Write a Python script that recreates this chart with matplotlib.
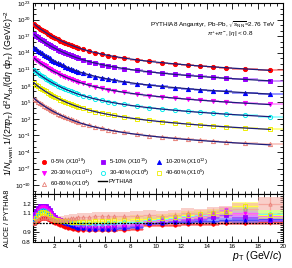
import matplotlib
matplotlib.use("Agg")
import matplotlib.pyplot as plt
from matplotlib.lines import Line2D
from matplotlib.ticker import MultipleLocator, FixedLocator, NullFormatter
import numpy as np

plt.rcParams['font.family'] = ['Liberation Sans', 'DejaVu Sans']
plt.rcParams['mathtext.fontset'] = 'custom'
plt.rcParams['mathtext.rm'] = 'Liberation Sans'
plt.rcParams['mathtext.it'] = 'Liberation Sans:italic'

# pT bin centres and edges (GeV/c)
pt = [0.45, 0.6, 0.75, 0.9, 1.05, 1.2, 1.35, 1.5, 1.65, 1.8, 1.95, 2.1, 2.3, 2.5, 2.7,
      2.9, 3.1, 3.3, 3.5, 3.7, 3.9, 4.25, 4.75, 5.25, 5.75, 6.25, 6.75, 7.5, 8.5, 9.5,
      10.5, 11.5, 12.5, 13.5, 14.5, 15.5, 17, 19]
pt_edges = [0.4, 0.525, 0.675, 0.825, 0.975, 1.125, 1.275, 1.425, 1.575, 1.725, 1.875,
            2.025, 2.2, 2.4, 2.6, 2.8, 3.0, 3.2, 3.4, 3.6, 3.8, 4.0, 4.5, 5.0, 5.5, 6.0,
            6.5, 7.0, 8.0, 9.0, 10, 11, 12, 13, 14, 15, 16, 18, 20]

# PYTHIA8 spectrum shape, log10, relative to lowest pT
pythia_shape = [-0.10, -0.40, -0.69, -0.95, -1.18, -1.42, -1.65, -1.86, -2.07, -2.27, -2.46,
                -2.64, -2.87, -3.10, -3.31, -3.52, -3.72, -3.90, -4.08, -4.25, -4.41, -4.66,
                -5.00, -5.29, -5.55, -5.78, -5.99, -6.28, -6.60, -6.88, -7.12, -7.33, -7.53,
                -7.71, -7.87, -8.03, -8.24, -8.50]

labels = ['0-5% (X10$^{18}$)', '5-10% (X10$^{15}$)', '10-20% (X10$^{12}$)',
          '20-30% (X10$^{11}$)', '30-40% (X10$^{8}$)', '40-60% (X10$^{5}$)',
          '60-80% (X10$^{4}$)']
# log10 of scaled spectrum at lowest pT
offsets = [19.3, 17.4, 15.0, 13.1, 10.9, 8.6, 5.8]

ratio_05 = [1.00, 1.01, 1.02, 1.04, 1.05, 1.05, 1.05, 1.04, 1.03, 1.02, 1.01, 1.00, 0.99,
            0.98, 0.97, 0.96, 0.95, 0.95, 0.94, 0.94, 0.93, 0.93, 0.92, 0.92, 0.92, 0.92,
            0.92, 0.93, 0.94, 0.98, 0.98, 0.98, 0.99, 0.99, 0.99, 1.00, 1.00, 1.01]
ratio_510 = [1.09, 1.12, 1.15, 1.17, 1.18, 1.18, 1.17, 1.15, 1.13, 1.10, 1.08, 1.06, 1.04,
             1.03, 1.02, 1.01, 1.00, 0.99, 0.98, 0.97, 0.96, 0.96, 0.95, 0.95, 0.95, 0.95,
             0.96, 0.96, 0.97, 1.00, 1.01, 1.02, 1.03, 1.04, 1.06, 1.08, 1.06, 1.03]
ratio_1020 = [1.04, 1.08, 1.11, 1.13, 1.14, 1.15, 1.14, 1.12, 1.10, 1.08, 1.06, 1.05, 1.03,
              1.02, 1.01, 1.00, 0.99, 0.98, 0.97, 0.96, 0.95, 0.95, 0.94, 0.94, 0.94, 0.94,
              0.94, 0.95, 0.96, 1.00, 1.00, 1.01, 1.01, 1.02, 1.02, 1.03, 1.03, 1.04]
ratio_2030 = [1.05, 1.09, 1.13, 1.15, 1.16, 1.16, 1.15, 1.13, 1.11, 1.09, 1.07, 1.05, 1.04,
              1.03, 1.02, 1.01, 1.00, 1.00, 0.99, 0.98, 0.98, 0.97, 0.97, 0.97, 0.97, 0.97,
              0.98, 0.98, 0.99, 1.02, 1.03, 1.04, 1.06, 1.07, 1.09, 1.13, 1.10, 1.07]
ratio_3040 = [1.03, 1.07, 1.10, 1.12, 1.13, 1.13, 1.12, 1.10, 1.08, 1.07, 1.05, 1.04, 1.03,
              1.02, 1.02, 1.01, 1.01, 1.00, 1.00, 1.00, 0.99, 0.99, 0.99, 0.99, 0.99, 1.00,
              1.00, 1.01, 1.01, 1.03, 1.04, 1.05, 1.07, 1.08, 1.10, 1.12, 1.14, 1.09]
ratio_4060 = [1.02, 1.05, 1.08, 1.10, 1.11, 1.11, 1.10, 1.09, 1.07, 1.05, 1.04, 1.03, 1.03,
              1.02, 1.02, 1.02, 1.02, 1.01, 1.01, 1.01, 1.01, 1.01, 1.01, 1.02, 1.02, 1.02,
              1.03, 1.03, 1.04, 1.04, 1.05, 1.06, 1.08, 1.09, 1.10, 1.11, 1.17, 1.08]
ratio_6080 = [1.00, 1.02, 1.04, 1.05, 1.06, 1.06, 1.06, 1.05, 1.05, 1.04, 1.04, 1.03, 1.03,
              1.03, 1.03, 1.04, 1.04, 1.05, 1.05, 1.05, 1.06, 1.06, 1.06, 1.07, 1.07, 1.07,
              1.07, 1.07, 1.07, 1.08, 1.07, 1.08, 1.10, 1.09, 1.11, 1.12, 1.14, 1.20]
ratios = [ratio_05, ratio_510, ratio_1020, ratio_2030, ratio_3040, ratio_4060, ratio_6080]

ratio_sys = [0.02] * 22 + [0.02, 0.02, 0.02, 0.02, 0.02, 0.02, 0.022, 0.022, 0.025,
                           0.025, 0.025, 0.025, 0.025, 0.025, 0.028, 0.03]
ratio_stat = [0.002] * 22 + [0.003, 0.004, 0.005, 0.006, 0.007, 0.008, 0.009, 0.01, 0.012,
                             0.014, 0.016, 0.018, 0.02, 0.022, 0.025, 0.03]
err_scale = [1.0, 1.0, 1.0, 1.2, 1.4, 1.7, 2.2]

colors = ['#ff0000', '#9900ff', '#0000ff', '#ff00ff', '#00eeee', '#eeee00', '#e88078']
band_colors = ['#ff5050', '#b050ff', '#5050ff', '#ff60ff', '#60ffff', '#ffff40', '#f5a8a0']
markers = ['o', 's', '^', 'v', 'o', 's', '^']
filled = [True, True, True, True, False, False, False]
line_color = '#1c1c7a'

pt_a = np.array(pt)
lo = np.array(pt_edges[:-1])
hi = np.array(pt_edges[1:])
xerr = [pt_a - lo, hi - pt_a]

fig = plt.figure(figsize=(2.92, 2.68), dpi=100)
ax1 = fig.add_axes([33 / 292, 1 - 194 / 268, 250 / 292, 191 / 268])
ax2 = fig.add_axes([33 / 292, 1 - 242 / 268, 250 / 292, 48 / 268], sharex=ax1)

for i in range(7):
    model = 10 ** (offsets[i] + np.array(pythia_shape))
    data = model * np.array(ratios[i])
    ax1.errorbar(pt, data, xerr=xerr, fmt='none', ecolor=band_colors[i], elinewidth=1.4,
                 alpha=0.6, zorder=2)
    ax1.plot(pt, data, linestyle='none', marker=markers[i], markersize=3.0,
             markeredgewidth=0.7, color=colors[i],
             markerfacecolor=colors[i] if filled[i] else 'none', zorder=3)
    ax1.plot(pt, model, color=line_color, lw=0.9, zorder=4)

    r = np.array(ratios[i])
    sys = np.array(ratio_sys) * err_scale[i]
    stat = np.array(ratio_stat) * err_scale[i]
    ax2.bar(lo, 2 * sys, bottom=r - sys, width=hi - lo, align='edge',
            color=band_colors[i], alpha=0.55, lw=0, zorder=2)
    ax2.errorbar(pt, r, xerr=xerr, yerr=stat, fmt='none', ecolor=band_colors[i],
                 elinewidth=0.9, zorder=3)
    ax2.plot(pt, r, linestyle='none', marker=markers[i], markersize=2.4,
             markeredgewidth=0.6, color=colors[i],
             markerfacecolor=colors[i] if filled[i] else 'none', zorder=4)

ax2.axhline(1.0, color='black', lw=0.9, ls=(0, (1.5, 1.0)), zorder=5)

ax1.set_yscale('log')
ax1.set_xlim(0.35, 20)
ax1.set_ylim(10 ** -11.6, 1e23)
ax1.yaxis.set_major_locator(FixedLocator([10.0 ** k for k in range(-10, 24, 3)]))
ax1.yaxis.set_minor_locator(FixedLocator([10.0 ** k for k in range(-11, 24)]))
ax1.yaxis.set_minor_formatter(NullFormatter())
ax2.set_ylim(0.8, 1.3)
ax2.yaxis.set_major_locator(FixedLocator([0.8, 0.9, 1.0, 1.1, 1.2]))
ax2.yaxis.set_minor_locator(MultipleLocator(0.02))
ax2.set_yticklabels(['0.8', '0.9', '', '1.1', '1.2'])
ax1.xaxis.set_major_locator(MultipleLocator(2))
ax1.xaxis.set_minor_locator(MultipleLocator(0.5))
plt.setp(ax1.get_xticklabels(), visible=False)

for ax in (ax1, ax2):
    ax.tick_params(which='both', direction='in', top=True, right=True, labelsize=4.5,
                   width=0.6, pad=1.5)
    ax.tick_params(which='major', length=4)
    ax.tick_params(which='minor', length=2)
    for s in ax.spines.values():
        s.set_linewidth(0.8)

fig.text(9 / 292, 1 - 93 / 268,
         r'$1/N_{\rm event}$ $1/(2\pi p_{\rm T})$ d$^2N_{\rm ch}$/(d$\eta$ d$p_{\rm T}$) (GeV/$c$)$^{-2}$',
         rotation=90, ha='center', va='center', fontsize=6.4)
fig.text(8 / 292, 1 - 218 / 268, 'ALICE / PYTHIA8', rotation=90, ha='center',
         va='center', fontsize=5.2)
fig.text(283 / 292, 1 - 256 / 268, r'$p_{\rm T}$ (GeV/$c$)', ha='right', va='center',
         fontsize=7.5)

ax1.text(0.97, 0.885, r'PYTHIA8 Angantyr, Pb-Pb, $\sqrt{s_{\rm NN}}$=2.76 TeV',
         transform=ax1.transAxes, ha='right', va='center', fontsize=4.6)
ax1.text(0.79, 0.835, r'$\pi^{+}$+$\pi^{-}$, $|\eta|$ < 0.8', transform=ax1.transAxes,
         ha='center', va='center', fontsize=4.6)

handles = []
for i in range(7):
    handles.append(Line2D([], [], linestyle='none', marker=markers[i], markersize=3,
                          markeredgewidth=0.6, color=colors[i],
                          markerfacecolor=colors[i] if filled[i] else 'none'))
pythia_handle = Line2D([], [], color='black', lw=1.0)
order = [0, 3, 6, 1, 4, None, 2, 5]
leg_h = [pythia_handle if k is None else handles[k] for k in order]
leg_l = ['PYTHIA8' if k is None else labels[k] for k in order]
ax1.legend(leg_h, leg_l, ncol=3, loc='center left', bbox_to_anchor=(0.028, 0.11),
           frameon=False, fontsize=4.2, handlelength=1.5, handletextpad=0.3,
           columnspacing=0.9, labelspacing=0.12, borderpad=0, borderaxespad=0)

fig.savefig('out.png', dpi=100)
